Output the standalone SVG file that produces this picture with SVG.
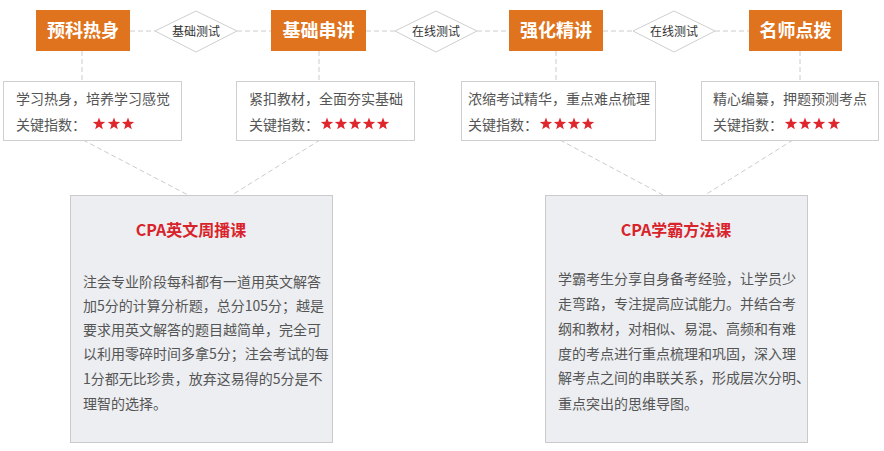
<svg xmlns="http://www.w3.org/2000/svg" width="884" height="451" viewBox="0 0 884 451">
<style>
.stage{fill:#e0731d}
.stage-t{font-family:"Noto Sans CJK SC","Liberation Sans",sans-serif;font-size:18px;font-weight:bold;fill:#fff;text-anchor:middle}
.dia{fill:#fff;stroke:#cfcfcf;stroke-width:1}
.dia-t{font-family:"Noto Sans CJK SC","Liberation Sans",sans-serif;font-size:12px;fill:#333;text-anchor:middle}
.info{fill:#fff;stroke:#cfcfcf;stroke-width:1}
.info-t{font-family:"Noto Sans CJK SC","Liberation Sans",sans-serif;font-size:14px;fill:#555}
.big{fill:#eceef1;stroke:#cacaca;stroke-width:1}
.big-h{font-family:"Noto Sans CJK SC","Liberation Sans",sans-serif;font-size:16px;font-weight:bold;fill:#d9232b;text-anchor:middle}
.big-t{font-family:"Noto Sans CJK SC","Liberation Sans",sans-serif;font-size:14px;fill:#555}
.conn line{stroke:#cccccc;stroke-width:1;stroke-dasharray:5,3;fill:none}
.star{fill:#e0262d}
</style>
<defs>
<path id="star" class="star" d="M0,-6.5 L1.59,-2.18 L6.18,-2.01 L2.57,0.83 L3.82,5.26 L0,2.7 L-3.82,5.26 L-2.57,0.83 L-6.18,-2.01 L-1.59,-2.18 Z"/>
</defs>
<rect width="884" height="451" fill="#fff"/>

<g id="connectors" class="conn">
<line x1="130" y1="31" x2="155" y2="31"/>
<line x1="237" y1="31" x2="271" y2="31"/>
<line x1="366" y1="31" x2="395" y2="31"/>
<line x1="477" y1="31" x2="509" y2="31"/>
<line x1="603" y1="31" x2="633" y2="31"/>
<line x1="715" y1="31" x2="749" y2="31"/>
<line x1="82" y1="51" x2="82" y2="81"/>
<line x1="319" y1="51" x2="319" y2="81"/>
<line x1="556" y1="51" x2="556" y2="81"/>
<line x1="800" y1="51" x2="800" y2="81"/>
<line x1="83" y1="140" x2="188" y2="195"/>
<line x1="320" y1="140" x2="232" y2="195"/>
<line x1="560" y1="140" x2="663" y2="195"/>
<line x1="793" y1="140" x2="705" y2="195"/>
</g>

<g id="stage1"><rect class="stage" x="36" y="10" width="94" height="41"/><text class="stage-t" x="83" y="37">预科热身</text></g>
<g id="stage2"><rect class="stage" x="271" y="10" width="95" height="41"/><text class="stage-t" x="318.5" y="37">基础串讲</text></g>
<g id="stage3"><rect class="stage" x="509" y="10" width="94" height="41"/><text class="stage-t" x="556" y="37">强化精讲</text></g>
<g id="stage4"><rect class="stage" x="749" y="10" width="93" height="41"/><text class="stage-t" x="795.5" y="37">名师点拨</text></g>

<g id="test1"><polygon class="dia" points="155,31 196,11 237,31 196,52"/><text class="dia-t" x="196" y="35.5">基础测试</text></g>
<g id="test2"><polygon class="dia" points="395,31 436,11 477,31 436,52"/><text class="dia-t" x="436" y="35.5">在线测试</text></g>
<g id="test3"><polygon class="dia" points="633,31 674,11 715,31 674,52"/><text class="dia-t" x="674" y="35.5">在线测试</text></g>

<g id="info1"><rect class="info" x="3.5" y="81.5" width="178" height="59"/>
<text class="info-t" x="16" y="104">学习热身，培养学习感觉</text>
<text class="info-t" x="16" y="130">关键指数：</text>
<use href="#star" x="99" y="124"/><use href="#star" x="114" y="124"/><use href="#star" x="128" y="124"/></g>

<g id="info2"><rect class="info" x="236.5" y="81.5" width="178" height="59"/>
<text class="info-t" x="249" y="104">紧扣教材，全面夯实基础</text>
<text class="info-t" x="249" y="130">关键指数：</text>
<use href="#star" x="327" y="124"/><use href="#star" x="341" y="124"/><use href="#star" x="355" y="124"/><use href="#star" x="369" y="124"/><use href="#star" x="383" y="124"/></g>

<g id="info3"><rect class="info" x="461.5" y="81.5" width="194" height="59"/>
<text class="info-t" x="468" y="104">浓缩考试精华，重点难点梳理</text>
<text class="info-t" x="468" y="130">关键指数：</text>
<use href="#star" x="546" y="124"/><use href="#star" x="560" y="124"/><use href="#star" x="574" y="124"/><use href="#star" x="588" y="124"/></g>

<g id="info4"><rect class="info" x="701.5" y="81.5" width="177" height="59"/>
<text class="info-t" x="713" y="104">精心编纂，押题预测考点</text>
<text class="info-t" x="713" y="130">关键指数：</text>
<use href="#star" x="791" y="124"/><use href="#star" x="805" y="124"/><use href="#star" x="819" y="124"/><use href="#star" x="834" y="124"/></g>

<g id="course1"><rect class="big" x="70.5" y="195.5" width="262" height="247"/>
<text class="big-h" x="191" y="236">CPA英文周播课</text>
<text class="big-t" x="83" y="287">注会专业阶段每科都有一道用英文解答</text>
<text class="big-t" x="83" y="311">加5分的计算分析题，总分105分；越是</text>
<text class="big-t" x="83" y="335">要求用英文解答的题目越简单，完全可</text>
<text class="big-t" x="83" y="359">以利用零碎时间多拿5分；注会考试的每</text>
<text class="big-t" x="83" y="384">1分都无比珍贵，放弃这易得的5分是不</text>
<text class="big-t" x="83" y="409">理智的选择。</text>
</g>

<g id="course2"><rect class="big" x="545.5" y="195.5" width="262" height="247"/>
<text class="big-h" x="676" y="236">CPA学霸方法课</text>
<text class="big-t" x="558" y="284">学霸考生分享自身备考经验，让学员少</text>
<text class="big-t" x="558" y="309">走弯路，专注提高应试能力。并结合考</text>
<text class="big-t" x="558" y="334">纲和教材，对相似、易混、高频和有难</text>
<text class="big-t" x="558" y="359">度的考点进行重点梳理和巩固，深入理</text>
<text class="big-t" x="558" y="383">解考点之间的串联关系，形成层次分明、</text>
<text class="big-t" x="558" y="409">重点突出的思维导图。</text>
</g>
</svg>
